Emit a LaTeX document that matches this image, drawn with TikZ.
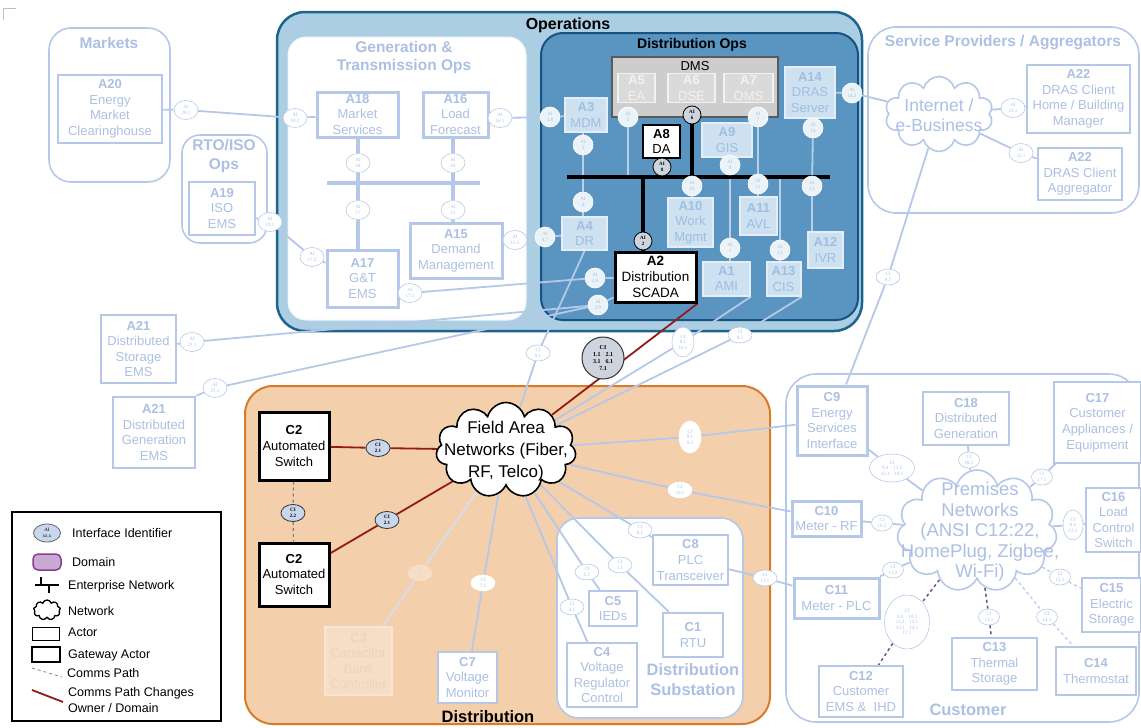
\documentclass[tikz,border=0pt]{standalone}
\usepackage{fontspec}
\setmainfont{Liberation Sans}
\newfontfamily\aifont{Liberation Serif}
\usetikzlibrary{shapes.geometric,shapes.symbols}
\pgfdeclarelayer{back}
\pgfdeclarelayer{mid}
\pgfsetlayers{back,mid,main}
\definecolor{fb}{RGB}{182,200,232}
\definecolor{ft}{RGB}{172,192,228}
\definecolor{opsfill}{RGB}{172,206,227}
\definecolor{opsline}{RGB}{28,100,142}
\definecolor{dofill}{RGB}{90,148,192}
\definecolor{doline}{RGB}{22,82,130}
\definecolor{peach}{RGB}{243,207,172}
\definecolor{orng}{RGB}{214,124,44}
\definecolor{dred}{RGB}{150,25,25}
\definecolor{dmsfill}{RGB}{205,205,205}
\definecolor{dmsline}{RGB}{90,90,90}
\definecolor{dmsin}{RGB}{218,218,218}
\definecolor{dmstx}{RGB}{242,242,242}
\definecolor{inact}{RGB}{205,225,240}
\definecolor{inline}{RGB}{228,238,248}
\definecolor{intext}{RGB}{160,190,224}
\definecolor{dlcol}{RGB}{185,208,232}
\definecolor{kaifill}{RGB}{205,212,222}
\definecolor{cifill}{RGB}{200,215,235}
\definecolor{c3fill}{RGB}{246,221,198}
\definecolor{c3line}{RGB}{248,228,210}
\definecolor{c3text}{RGB}{238,212,188}
\definecolor{domfill}{RGB}{200,170,212}
\definecolor{domline}{RGB}{140,60,150}
\definecolor{pdcol}{RGB}{105,85,150}
\definecolor{gdcol}{RGB}{95,90,125}
\newcommand{\myfa}{\fontsize{13}{15.6}\selectfont}
\newcommand{\myttl}{\bfseries\fontsize{15.5}{18.5}\selectfont}
\newcommand{\myai}{\aifont\fontsize{5}{5.6}\selectfont}
\newcommand{\mylg}{\fontsize{12.5}{15}\selectfont}
\begin{document}
\begin{tikzpicture}[x=1pt,y=-1pt,
  actor/.style={draw=fb, line width=2.5pt, fill=white, text=ft, align=center, inner sep=0pt, font=\myfa},
  cactor/.style={actor, line width=1.6pt},
  tactor/.style={actor, line width=3pt},
  dactor/.style={actor, line width=2pt, draw=inline, fill=inact, text=intext},
  mactor/.style={actor, line width=1.2pt, draw=dmstx, fill=dmsin, text=dmstx},
  gw/.style={actor, draw=black, line width=3pt, text=black},
  ai/.style={ellipse, draw=fb, fill=white, line width=0.6pt, inner sep=0pt, minimum width=24pt, minimum height=19pt, text=ft, font=\myai, align=center},
  dai/.style={ai, draw=white, fill=white!60!inact, text=intext, minimum width=20pt, minimum height=20pt},
  kai/.style={ellipse, draw=black, fill=kaifill, line width=0.8pt, inner sep=0pt, minimum width=18pt, minimum height=18pt, text=black, font=\myai\bfseries, align=center},
  ci/.style={ai, minimum width=24pt, minimum height=16pt},
  dci/.style={ai, draw=white, fill=white, minimum width=24pt, minimum height=16pt},
  bci/.style={ellipse, draw=black!80, fill=cifill, line width=0.8pt, inner sep=0pt, minimum width=24pt, minimum height=17pt, text=black, font=\myai\bfseries, align=center},
  ttl/.style={font=\myttl, text=ft, align=center},
  ttlk/.style={font=\myttl, text=black, align=center},
  region/.style={draw=fb, line width=1.6pt, fill=white, rounded corners=22pt},
  fl/.style={draw=fb, line width=1.8pt},
  dl/.style={draw=dlcol, line width=1.8pt},
  gbus/.style={draw=fb, line width=4.5pt},
  kbus/.style={draw=black, line width=4pt},
  rp/.style={draw=dred, line width=1.8pt},
  lgt/.style={anchor=west, font=\mylg, text=black, inner sep=0pt}
]
\useasboundingbox (0,0) rectangle (1141,728);

% ---------------- regions ----------------
\begin{pgfonlayer}{back}
\draw[black!25, line width=1pt] (3,20) -- (3,8) -- (16,8);
\draw[region] (49,28) rectangle (170,182);
\draw[region, rounded corners=18pt] (182,135) rectangle (267,243);
\draw[opsline, line width=2.5pt, fill=opsfill, rounded corners=28pt] (277,12) rectangle (862,331);
\draw[draw=white!80!opsfill, line width=1pt, fill=white, rounded corners=18pt] (288,37) rectangle (526,320);
\draw[doline, line width=2pt, fill=dofill, rounded corners=22pt] (541,33) rectangle (858,320);
\draw[region, rounded corners=28pt] (868,27) rectangle (1139,213);
\draw[orng, line width=2pt, fill=peach, rounded corners=28pt] (245,386) rectangle (770,724);
\draw[region] (557,518) rectangle (743,718);
\draw[region, rounded corners=30pt] (786,374) rectangle (1139,722);
\draw[black, line width=2pt, fill=white] (12,512) rectangle (221,721);
\end{pgfonlayer}

% ---------------- titles ----------------
\node[ttl] at (109,43) {Markets};
\node[ttl] at (224,156) {RTO/ISO\\Ops};
\node[ttl] at (404,57.5) {Generation \&\\Transmission Ops};
\node[ttlk, font=\bfseries\fontsize{16}{18}\selectfont] at (568,25) {Operations};
\node[ttlk, font=\bfseries\fontsize{14}{16}\selectfont] at (692,45) {Distribution Ops};
\node[ttl] at (1003,43) {Service Providers / Aggregators};
\node[ttlk, font=\bfseries\fontsize{16.5}{18}\selectfont] at (488,717) {Distribution};
\node[ttl, font=\bfseries\fontsize{16.5}{20}\selectfont] at (693,680) {Distribution\\Substation};
\node[ttl, font=\bfseries\fontsize{16.5}{18}\selectfont] at (968,710) {Customer};

% ---------------- markets / RTO ----------------
\node[actor, minimum width=104pt, minimum height=68pt] (a20) at (110,109) {\textbf{A20}\\Energy\\Market\\Clearinghouse};
\node[actor, minimum width=66pt, minimum height=53pt] (a19) at (222,208.5) {\textbf{A19}\\ISO\\EMS};
\node[ai] (ai201) at (186,110) {AI\\20.1};
\node[ai] (ai191) at (270,222) {AI\\19.1};

% ---------------- generation & transmission ----------------
\node[tactor, minimum width=81pt, minimum height=45pt] (a18) at (357.5,114.5) {\textbf{A18}\\Market\\Services};
\node[tactor, minimum width=65pt, minimum height=45pt] (a16) at (455.5,114.5) {\textbf{A16}\\Load\\Forecast};
\node[tactor, minimum width=92pt, minimum height=55pt] (a15) at (456,250.5) {\textbf{A15}\\Demand\\Management};
\node[tactor, minimum width=71pt, minimum height=57pt] (a17) at (362.5,278.5) {\textbf{A17}\\G\&T\\EMS};
\node[ai] (ai182) at (295,118) {AI\\18.2};
\node[ai] (ai161) at (500,118) {AI\\16.1};
\node[ai] (ai18) at (358,163) {AI\\18};
\node[ai] (ai16) at (453,163) {AI\\16};
\node[ai] (ai17) at (358,210) {AI\\17};
\node[ai] (ai15) at (453,210) {AI\\15};
\node[ai] (ai172) at (312,257) {AI\\17.2};
\node[ai] (ai151) at (515,240) {AI\\15.1};
\node[ai] (ai171) at (410,293) {AI\\17.1};
\coordinate (gbl) at (327,183);
\coordinate (gbr) at (480,183);

% ---------------- distribution ops ----------------
\node[draw=dmsline, fill=dmsfill, line width=1.2pt, minimum width=166pt, minimum height=60pt, inner sep=0pt] (dms) at (695,87) {};
\node[font=\myfa, text=black] at (695,66) {DMS};
\node[mactor, minimum width=37pt, minimum height=29pt] (a5) at (636.5,88) {\textbf{A5}\\EA};
\node[mactor, minimum width=47pt, minimum height=29pt] (a6) at (691.5,88) {\textbf{A6}\\DSE};
\node[mactor, minimum width=49pt, minimum height=29pt] (a7) at (748.5,88) {\textbf{A7}\\OMS};
\node[dactor, minimum width=50pt, minimum height=51pt] (a14) at (810,92.5) {\textbf{A14}\\DRAS\\Server};
\node[dactor, minimum width=42pt, minimum height=34pt] (a3) at (586,115) {\textbf{A3}\\MDM};
\node[actor, draw=black, line width=1.5pt, text=black, minimum width=37pt, minimum height=33pt] (a8) at (661.5,141.5) {\textbf{A8}\\DA};
\node[dactor, minimum width=50pt, minimum height=34pt] (a9) at (727,140) {\textbf{A9}\\GIS};
\node[dactor, minimum width=45pt, minimum height=33pt] (a4) at (584.5,233.5) {\textbf{A4}\\DR};
\node[dactor, minimum width=45pt, minimum height=49pt] (a10) at (690.5,222.5) {\textbf{A10}\\Work\\Mgmt};
\node[dactor, minimum width=37pt, minimum height=38pt] (a11) at (758.5,216) {\textbf{A11}\\AVL};
\node[dactor, minimum width=35pt, minimum height=36pt] (a12) at (825.5,250) {\textbf{A12}\\IVR};
\node[gw, font=\fontsize{13.5}{16}\selectfont, minimum width=81pt, minimum height=50pt] (a2) at (655.5,277) {\textbf{A2}\\Distribution\\SCADA};
\node[dactor, minimum width=47pt, minimum height=34pt] (a1) at (726.5,278.5) {\textbf{A1}\\AMI};
\node[dactor, minimum width=34pt, minimum height=34pt] (a13) at (783.5,279) {\textbf{A13}\\CIS};
\node[dai] (ai38) at (550,117) {AI\\3.8};
\node[dai] (ai5) at (628,117) {AI\\5};
\node[kai] (ai6) at (692,115) {AI\\6};
\node[dai] (ai7) at (758,117) {AI\\7};
\node[dai] (ai14) at (813,128) {AI\\14};
\node[dai] (ai3) at (583,145) {AI\\3};
\node[kai] (ai8) at (662,167) {AI\\8};
\node[dai] (ai9) at (730,165) {AI\\9};
\node[dai] (ai10) at (692,186) {AI\\10};
\node[dai] (ai11) at (758,184) {AI\\11};
\node[dai] (ai12) at (812,186) {AI\\12};
\node[dai] (ai4) at (583,202) {AI\\4};
\node[dai] (ai47) at (545,237) {AI\\4.7};
\node[kai] (ai2) at (643,241) {AI\\2};
\node[dai] (ai1) at (730,248) {AI\\1};
\node[dai] (ai13) at (780,250) {AI\\13};
\node[dai] (ai28) at (595,278) {AI\\2.8};
\node[dai] (ai29) at (598,305) {AI\\2.9};
\node[dai] (ai142) at (852,93) {AI\\14.2};
\coordinate (kbl) at (567,177);
\coordinate (kbr) at (830,177);

% ---------------- service providers ----------------
\node[cloud, cloud puffs=10, cloud ignores aspect, draw=fb, line width=1.6pt, fill=white, minimum width=108pt, minimum height=75pt, inner sep=0pt] (inet) at (939,114) {};
\node[font=\fontsize{17.5}{20}\selectfont, text=ft, align=center] at (939,115) {Internet /\\e-Business};
\node[actor, minimum width=103pt, minimum height=68pt] (a22a) at (1078.5,99) {\textbf{A22}\\DRAS Client\\Home / Building\\Manager};
\node[actor, minimum width=84pt, minimum height=52pt] (a22b) at (1080,174) {\textbf{A22}\\DRAS Client\\Aggregator};
\node[ai] (ai221a) at (1013,108) {AI\\22.1};
\node[ai] (ai221b) at (1021,153) {AI\\22.1};

% ---------------- A21 ----------------
\node[actor, minimum width=75pt, minimum height=68pt] (a21s) at (138.5,349) {\textbf{A21}\\Distributed\\Storage\\EMS};
\node[actor, minimum width=82pt, minimum height=71pt] (a21g) at (154,432.5) {\textbf{A21}\\Distributed\\Generation\\EMS};
\node[ai] (ai211s) at (192,342) {AI\\21.1};
\node[ai] (ai211g) at (215,388) {AI\\21.1};

% ---------------- between ----------------
\node[ci] (c91) at (538,353) {CI\\9.1};
\node[ci, minimum width=22pt, minimum height=30pt] (c81) at (683,342) {CI\\8.1\\10.1};
\node[ci] (c92) at (740,335) {CI\\9.2};
\node[ci] (c93) at (888,277) {CI\\9.3};
\node[circle, draw=black!80, fill=kaifill, line width=1pt, inner sep=0pt, minimum size=42pt, font=\aifont\bfseries\fontsize{6}{7}\selectfont, align=center] (cbub) at (603,358) {CI\\1.1\hspace{5pt}2.1\\3.1\hspace{5pt}6.1\\7.1};

% ---------------- distribution ----------------
\node[cloud, cloud puffs=11, cloud ignores aspect, draw=black, line width=1.6pt, fill=white, minimum width=140pt, minimum height=95pt, inner sep=0pt] (fan) at (506,450) {};
\node[font=\fontsize{17}{22}\selectfont, align=center] at (506,451) {Field Area\\Networks (Fiber,\\RF, Telco)};
\node[gw, minimum width=70pt, minimum height=68pt] (c2u) at (294,446) {\textbf{C2}\\Automated\\Switch};
\node[gw, minimum width=70pt, minimum height=63pt] (c2l) at (294,574.5) {\textbf{C2}\\Automated\\Switch};
\node[bci] (c21u) at (378,448) {CI\\2.1};
\node[bci] (c22) at (293,513) {CI\\2.2};
\node[bci] (c21l) at (387,520) {CI\\2.1};
\node[actor, line width=2.5pt, draw=c3line, fill=c3fill, text=c3text, minimum width=67pt, minimum height=68pt] (c3) at (358.5,661) {\textbf{C3}\\Capacitor\\Bank\\Controller};
\node[actor, minimum width=59pt, minimum height=51pt] (c7) at (467.5,677.5) {\textbf{C7}\\Voltage\\Monitor};
\node[dci, fill=c3fill, draw=c3fill, text=c3text] (c31) at (420,573) {CI\\3.1};
\node[dci] (c71) at (483,583) {CI\\7.1};
\node[dci, minimum width=22pt, minimum height=32pt] (c9192) at (690,437) {CI\\9.1\\9.2};
\node[dci] (c101) at (680,490) {CI\\10.1};
\node[ci] (c811) at (640,530) {CI\\8.1};
\node[ci] (c111) at (620,565) {CI\\1.1};
\node[ci] (c51) at (587,572) {CI\\5.1};
\node[ci] (c41) at (572,607) {CI\\4.1};
\node[ci] (c1111) at (765,578) {CI\\11.1};
\node[actor, minimum width=75pt, minimum height=50pt] (c8) at (690.5,560) {\textbf{C8}\\PLC\\Transceiver};
\node[actor, minimum width=48pt, minimum height=35pt] (c5) at (613,608.5) {\textbf{C5}\\IEDs};
\node[actor, minimum width=60pt, minimum height=44pt] (c1) at (693,635) {\textbf{C1}\\RTU};
\node[actor, minimum width=70pt, minimum height=64pt] (c4) at (602,675) {\textbf{C4}\\Voltage\\Regulator\\Control};

% ---------------- customer ----------------
\node[cloud, cloud puffs=11, cloud ignores aspect, draw=fb, line width=1.6pt, fill=white, minimum width=160pt, minimum height=122pt, inner sep=0pt] (pnet) at (977,531) {};
\node[font=\fontsize{18.5}{20.5}\selectfont, text=ft, align=center] at (980,532) {Premises\\Networks\\(ANSI C12:22,\\HomePlug, Zigbee,\\Wi-Fi)};
\node[tactor, minimum width=70pt, minimum height=69pt] (c9) at (832,420.5) {\textbf{C9}\\Energy\\Services\\Interface};
\node[cactor, minimum width=86pt, minimum height=53pt] (c18) at (966,418.5) {\textbf{C18}\\Distributed\\Generation};
\node[cactor, minimum width=87pt, minimum height=81pt] (c17) at (1097.5,422.5) {\textbf{C17}\\Customer\\Appliances /\\Equipment};
\node[tactor, minimum width=69pt, minimum height=35pt] (c10) at (826.5,518.5) {\textbf{C10}\\Meter - RF};
\node[tactor, minimum width=85pt, minimum height=40pt] (c11) at (836.5,598) {\textbf{C11}\\Meter - PLC};
\node[cactor, minimum width=55pt, minimum height=64pt] (c16) at (1113.5,520) {\textbf{C16}\\Load\\Control\\Switch};
\node[cactor, minimum width=59pt, minimum height=54pt] (c15) at (1111.5,605) {\textbf{C15}\\Electric\\Storage};
\node[cactor, minimum width=84pt, minimum height=51pt] (c12) at (861,691.5) {\textbf{C12}\\Customer\\EMS \&\ \ IHD};
\node[cactor, minimum width=85pt, minimum height=52pt] (c13) at (994.5,664) {\textbf{C13}\\Thermal\\Storage};
\node[cactor, minimum width=80pt, minimum height=48pt] (c14) at (1096,671) {\textbf{C14}\\Thermostat};
\node[ci, minimum width=45pt, minimum height=28pt] (cbig1) at (892,468) {CI\\9.4\hspace{5pt}13.1\\15.1\hspace{5pt}18.1};
\node[ci, minimum width=21pt] (c181) at (969,460) {CI\\18.1};
\node[ci, minimum width=21pt] (c171) at (1042,477) {CI\\17.1};
\node[ci, minimum width=21pt] (c102) at (882,523) {CI\\10.2};
\node[ci, minimum width=20pt, minimum height=30pt] (c9412) at (1073,525) {CI\\9.4\\12.1};
\node[ci, minimum width=21pt] (c112) at (893,570) {CI\\11.2};
\node[ci, minimum width=21pt] (c151) at (1060,577) {CI\\15.1};
\node[ci, minimum width=45pt, minimum height=54pt] (cbig2) at (907,622) {CI\\9.4\hspace{5pt}10.2\\11.2\hspace{5pt}12.1\\13.1\hspace{5pt}14.1\\17.1};
\node[ci, minimum width=21pt] (c131) at (989,617) {CI\\13.1};
\node[ci, minimum width=21pt] (c141) at (1047,617) {CI\\14.1};

% ---------------- connectors ----------------
\begin{pgfonlayer}{mid}
\draw[fl] (a20) -- (ai201) -- (ai182) -- (a18);
\draw[fl] (a19) -- (ai191) -- (ai172) -- (a17);
\draw[fl] (a16) -- (ai161) -- (ai38) -- (a3);
\draw[fl] (a15) -- (ai151) -- (ai47) -- (a4);
\draw[fl] (ai171 -| a17.east) -- (ai171) -- (ai28) -- (ai28 -| a2.west);
\draw[fl] (a21s) -- (ai211s) -- (ai29) -- (a2);
\draw[fl] (a21g.north east) -- (ai211g) -- (ai29);
\draw[gbus] (gbl) -- (gbr);
\draw[gbus] (a18.south -| ai18) -- (ai18) -- (ai17) -- (ai17 |- a17.north);
\draw[gbus] (a16.south -| ai16) -- (ai16) -- (ai15) -- (ai15 |- a15.north);
\draw[dl] (ai5) -- (ai5 |- kbl);
\draw[dl] (ai7) -- (ai11) -- (ai11 |- a11.north);
\draw[dl] (a9.south -| ai9) -- (ai9) -- (ai1) -- (ai1 |- a1.north);
\draw[dl] (a3.south -| ai3) -- (ai3) -- (ai4) -- (ai4 |- a4.north);
\draw[dl] (kbl -| ai13) -- (ai13) -- (ai13 |- a13.north);
\draw[dl] (a14.south -| ai14) -- (ai14) -- (ai12) -- (ai12 |- a12.north);
\draw[dl] (kbl -| ai10) -- (ai10) -- (ai10 |- a10.north);
\draw[kbus] (kbl) -- (kbr);
\draw[kbus] (ai6) -- (ai6 |- kbl);
\draw[kbus] (a8.south -| ai8) -- (ai8) -- (ai8 |- kbl);
\draw[kbus] (kbl -| ai2) -- (ai2) -- (ai2 |- a2.north);
\draw[fl] (a4.south) -- (c91) -- (fan);
\draw[fl] (a1.south east) -- (c81) -- (fan);
\draw[fl] (a13.south east) -- (c92) -- (fan);
\draw[fl] (a14) -- (ai142) -- (inet);
\draw[fl] (inet) -- (ai221a) -- (a22a);
\draw[fl] (inet) -- (ai221b) -- (a22b);
\draw[fl] (inet) -- (c93) -- (c9);
\draw[rp] (a2.south east) -- (fan);
\draw[rp] (c2u) -- (c21u) -- (fan);
\draw[rp] (c2l) -- (c21l) -- (fan);
\draw[dashed, draw=black!50, line width=1.2pt] (c2u) -- (c22) -- (c2l);
\draw[fl] (fan) -- (c9192) -- (c9);
\draw[fl] (fan) -- (c101) -- (c10);
\draw[fl, draw=fb!60] (fan) -- (c31) -- (c3);
\draw[fl] (fan) -- (c71) -- (c7);
\draw[fl] (fan) -- (c811) -- (c8);
\draw[fl] (fan) -- (c111) -- (c1);
\draw[fl] (fan) -- (c51) -- (c5);
\draw[fl] (fan) -- (c41) -- (c4);
\draw[fl] (c8) -- (c1111) -- (c11);
\draw[fl] (c9) -- (cbig1) -- (pnet);
\draw[fl] (c18) -- (c181) -- (pnet);
\draw[fl] (c17) -- (c171) -- (pnet);
\draw[fl] (c10) -- (c102) -- (pnet);
\draw[fl] (pnet) -- (c9412) -- (c16);
\draw[fl] (pnet) -- (c112) -- (c11);
\draw[draw=fb, dashed, line width=1.2pt] (pnet) -- (c151) -- (c15);
\draw[draw=pdcol, dashed, line width=1.5pt] (pnet) -- (cbig2) -- (c12);
\draw[draw=gdcol, dashed, line width=1.5pt] (pnet) -- (c131) -- (c13);
\draw[draw=fb, dashed, line width=1.2pt] (pnet) -- (c141) -- (c14);
\end{pgfonlayer}

% ---------------- legend ----------------
\node[ellipse, draw=black!60, fill=cifill, line width=0.8pt, inner sep=0pt, minimum width=27pt, minimum height=18pt, font=\myai, align=center] (lg1) at (47,533) {AI\\xx.x};
\node[lgt] at (72,533) {Interface Identifier};
\draw[draw=domline, fill=domfill, line width=1.5pt, rounded corners=5pt] (33,554) rectangle (61,570);
\node[lgt] at (72,562) {Domain};
\draw[black, line width=1.3pt] (35,585) -- (59,585) (41,577) -- (41,585) (49,585) -- (49,593);
\node[lgt] at (68,586) {Enterprise Network};
\node[cloud, cloud puffs=9, cloud ignores aspect, draw=black, line width=1.3pt, fill=white, minimum width=27pt, minimum height=20pt, inner sep=0pt] (lg2) at (47,610) {};
\node[lgt] at (68,611) {Network};
\draw[black, line width=0.8pt] (32,627) rectangle (59,640);
\node[lgt] at (68,632) {Actor};
\draw[black, line width=2.5pt] (32,647) rectangle (60,662);
\node[lgt] at (68,655) {Gateway Actor};
\draw[draw=pdcol!70, dashed, line width=0.9pt] (32,668) -- (62,677);
\node[lgt] at (67,673) {Comms Path};
\draw[rp] (32,690) -- (63,702);
\node[lgt] at (68,693) {Comms Path Changes};
\node[lgt] at (68,708) {Owner / Domain};
\end{tikzpicture}
\end{document}
